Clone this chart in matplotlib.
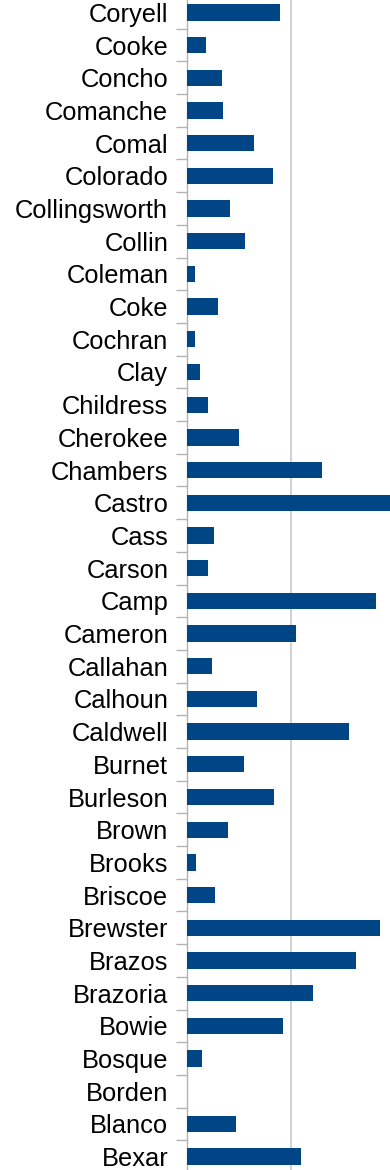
import numpy as np
import matplotlib.pyplot as plt

counties = ['Coryell', 'Cooke', 'Concho', 'Comanche', 'Comal', 'Colorado', 'Collingsworth',
            'Collin', 'Coleman', 'Coke', 'Cochran', 'Clay', 'Childress', 'Cherokee',
            'Chambers', 'Castro', 'Cass', 'Carson', 'Camp', 'Cameron', 'Callahan',
            'Calhoun', 'Caldwell', 'Burnet', 'Burleson', 'Brown', 'Brooks', 'Briscoe',
            'Brewster', 'Brazos', 'Brazoria', 'Bowie', 'Bosque', 'Borden', 'Blanco', 'Bexar']
values = [44.7, 9.1, 16.8, 17.3, 32.2, 41.3, 20.7,
          27.9, 3.8, 14.9, 3.8, 6.3, 10.1, 25.0,
          64.9, 103.0, 13.0, 10.1, 90.9, 52.4, 12.0,
          33.7, 77.9, 27.4, 41.8, 19.7, 4.3, 13.5,
          92.8, 81.3, 60.6, 46.2, 7.2, 0.0, 23.6, 54.8]

plt.rcParams['font.family'] = ['Liberation Sans', 'DejaVu Sans']

fig = plt.figure(figsize=(3.9, 11.7), dpi=100)
# axes runs a little past the top and bottom edges, like the cropped original
ax = fig.add_axes([187/390, -3/1170, 203/390, 1177/1170])

y = np.arange(len(counties))
ax.barh(y, values, height=0.5, color='#004586', zorder=3)
ax.set_ylim(len(counties) - 0.5, -0.5)
ax.set_xlim(0, 203/104*50)

ax.set_yticks(y)
ax.set_yticklabels(counties, fontsize=18.4)
ax.set_yticks(np.arange(len(counties) + 1) - 0.5, minor=True)
ax.tick_params(axis='y', which='major', length=0, pad=13.5)
ax.tick_params(axis='y', which='minor', length=8, width=1, color='#b3b3b3')

ax.set_xticks([50])
ax.tick_params(axis='x', length=0, labelbottom=False)
ax.grid(axis='x', color='#d3d3d3', linewidth=1.5, zorder=0)

for s in ['top', 'right', 'bottom']:
    ax.spines[s].set_visible(False)
ax.spines['left'].set_color('#b3b3b3')
ax.spines['left'].set_linewidth(1)

fig.savefig('out.png', dpi=100)
